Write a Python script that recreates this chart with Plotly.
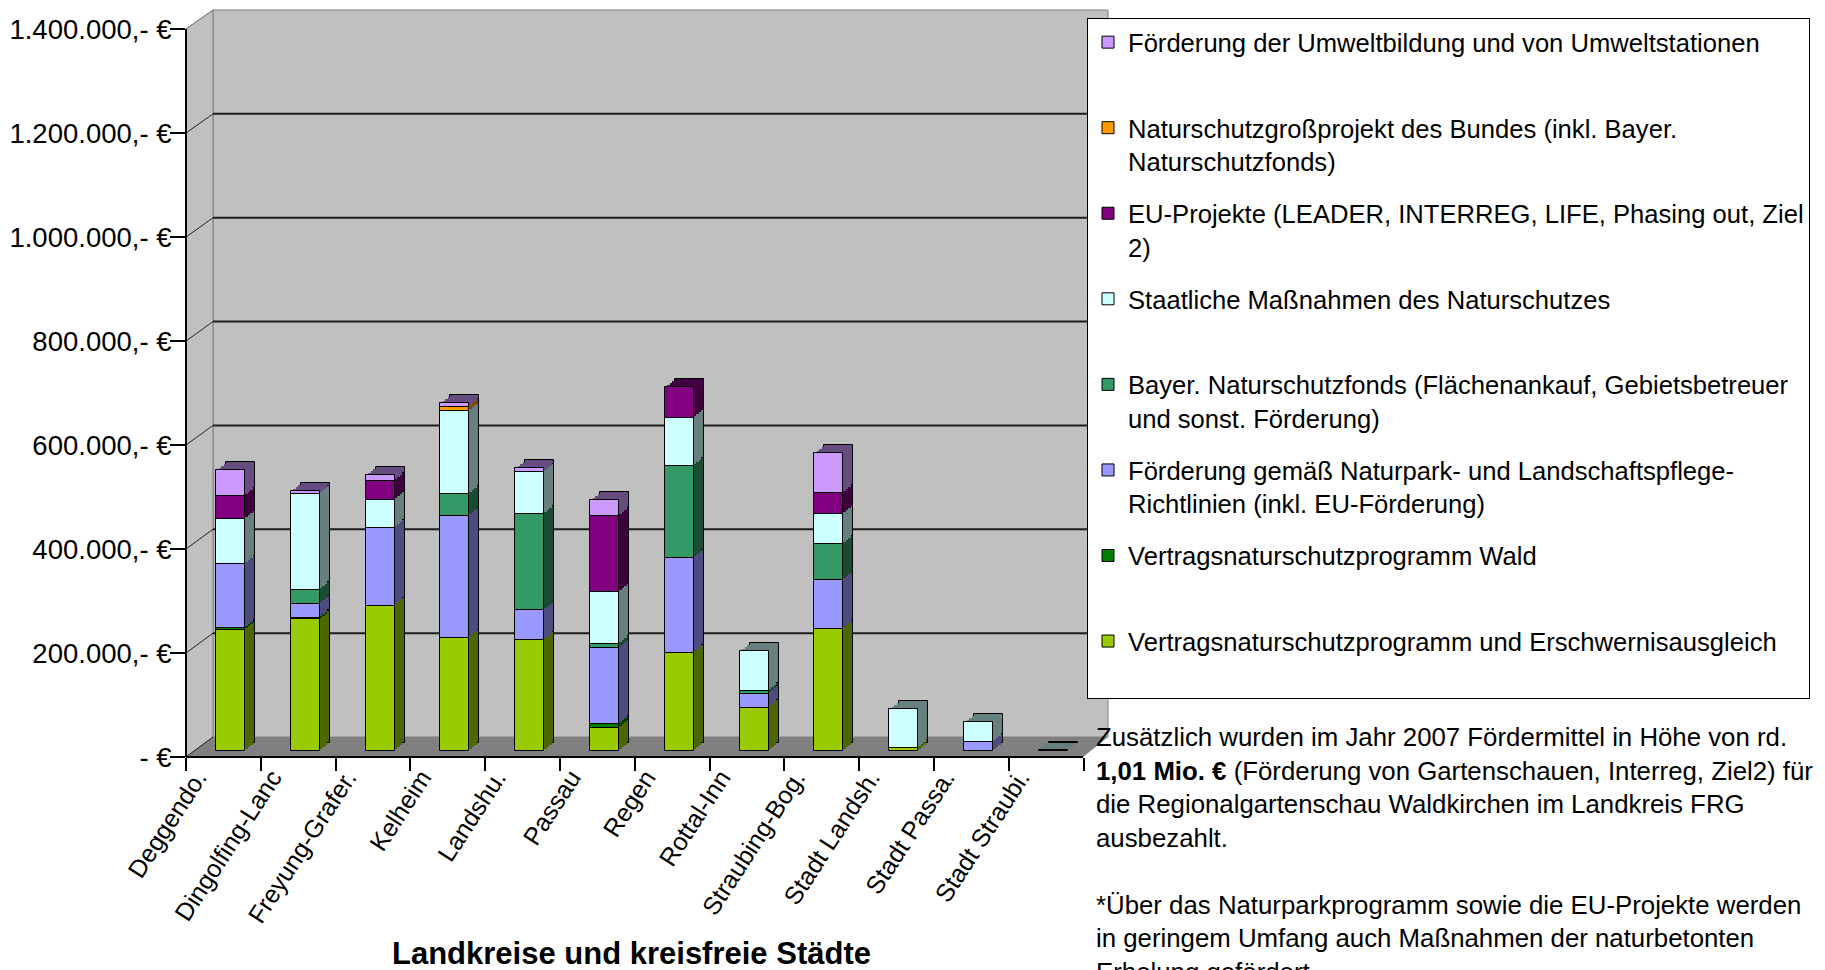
import numpy as np
import plotly.graph_objects as go

# ---------------- data ----------------
districts = ["Deggendorf", "Dingolfing-Landau", "Freyung-Grafenau", "Kelheim", "Landshut",
             "Passau", "Regen", "Rottal-Inn", "Straubing-Bogen", "Stadt Landshut",
             "Stadt Passau", "Stadt Straubing"]
tick_labels = ["Deggendo.", "Dingolfing-Lanc", "Freyung-Grafer.", "Kelheim", "Landshu.",
               "Passau", "Regen", "Rottal-Inn", "Straubing-Bog.", "Stadt Landsh.",
               "Stadt Passa.", "Stadt Straubi."]

y_tick_values = [0, 200000, 400000, 600000, 800000, 1000000, 1200000, 1400000]
y_tick_labels = ["- €", "200.000,- €", "400.000,- €", "600.000,- €", "800.000,- €",
                 "1.000.000,- €", "1.200.000,- €", "1.400.000,- €"]

# series values in EUR (stacking order bottom -> top)
vnp_erschwernis = [233000, 253000, 279000, 218000, 214000, 44000, 188000, 82000, 234000, 6000, 0, 0]
vnp_wald        = [3000, 3000, 0, 0, 0, 8000, 0, 0, 0, 0, 0, 0]
naturpark       = [123000, 26000, 150000, 234000, 58000, 146000, 183000, 27000, 95000, 0, 18000, 0]
naturschutzfonds = [0, 28000, 0, 42000, 184000, 8000, 178000, 6000, 69000, 0, 0, 0]
staatlich       = [88000, 184000, 53000, 160000, 80000, 99000, 92000, 77000, 57000, 74000, 38000, 2000]
eu_projekte     = [43000, 0, 37000, 0, 0, 147000, 59000, 0, 42000, 0, 0, 0]
grossprojekt    = [0, 0, 0, 7000, 0, 0, 0, 0, 0, 0, 0, 0]
umweltbildung   = [50000, 6000, 12000, 8000, 8000, 31000, 0, 0, 77000, 0, 0, 0]

series_names = [
    "Vertragsnaturschutzprogramm und Erschwernisausgleich<br> ",
    "Vertragsnaturschutzprogramm Wald<br> ",
    "Förderung gemäß Naturpark- und Landschaftspflege-<br>Richtlinien (inkl. EU-Förderung)",
    "Bayer. Naturschutzfonds (Flächenankauf, Gebietsbetreuer<br>und sonst. Förderung)",
    "Staatliche Maßnahmen des Naturschutzes<br> ",
    "EU-Projekte (LEADER, INTERREG, LIFE, Phasing out, Ziel<br>2)",
    "Naturschutzgroßprojekt des Bundes (inkl. Bayer.<br>Naturschutzfonds)",
    "Förderung der Umweltbildung und von Umweltstationen<br> ",
]
series_values = [vnp_erschwernis, vnp_wald, naturpark, naturschutzfonds, staatlich,
                 eu_projekte, grossprojekt, umweltbildung]
series_colors = ["#99CC00", "#008000", "#9999FF", "#339966", "#CCFFFF", "#800080", "#FF9900", "#CC99FF"]

x_title = "Landkreise und kreisfreie Städte"
note_text = ("Zusätzlich wurden im Jahr 2007 Fördermittel in Höhe von rd.<br>"
             "<b>1,01 Mio. €</b> (Förderung von Gartenschauen, Interreg, Ziel2) für<br>"
             "die Regionalgartenschau Waldkirchen im Landkreis FRG<br>"
             "ausbezahlt.<br> <br>"
             "*Über das Naturparkprogramm sowie die EU-Projekte werden<br>"
             "in geringem Umfang auch Maßnahmen der naturbetonten<br>"
             "Erholung gefördert.")

# ---------------- geometry (pixels) ----------------
W, H = 1825, 970
PL, PR, PT, PB = 186, 1110, 10, 757
PW, PH = PR - PL, PB - PT
Y_TOP_TICK_PX = 29
R = 1400000 * PH / (PB - Y_TOP_TICK_PX)
EUR_PER_PX = R / PH
BACK_X0, BACK_X1, BACK_TOP, BACK_FLOOR = 213, 1108, 10, 737
FLOOR_FRONT_RIGHT = 1083
CAT_W = 74.8
BAR_W_PX, BAR_LEFT_PX = 29, -7.4
BAR_LIFT = 6
DX, DY, NLAY = 10, 8, 4
FONT = "Liberation Sans, Arial, sans-serif"


def px_x(px):
    return (px - PL) / PW


def px_y(py):
    return (PB - py) / PH


def shade(hexcol, f=0.5):
    h = hexcol.lstrip("#")
    r, g, b = (int(h[i:i + 2], 16) for i in (0, 2, 4))
    return "#%02x%02x%02x" % (int(r * f), int(g * f), int(b * f))


fig = go.Figure()

# empty trace so that the labelled front axis pair (x, y) is drawn
fig.add_trace(go.Scatter(x=[None], y=[None], xaxis="x", yaxis="y", mode="markers",
                         showlegend=False, hoverinfo="skip"))

# stacking
bases = np.zeros(len(districts))
layers = []
for name, vals, col in zip(series_names, series_values, series_colors):
    v = np.array(vals, dtype=float)
    layers.append((name, v, bases.copy(), col))
    bases = bases + v

bar_w = BAR_W_PX / CAT_W
bar_off = BAR_LEFT_PX / CAT_W

# depth layers (back to front) -> side and top faces
for j in range(NLAY, 0, -1):
    lift = j / NLAY * DY * EUR_PER_PX
    for name, v, b, col in layers:
        yv = [float(a) if a > 0 else None for a in v]
        fig.add_trace(go.Bar(
            x=districts, y=yv, base=list(b + lift), yaxis="y2",
            width=bar_w, offset=bar_off + j / NLAY * DX / CAT_W,
            marker=dict(color=shade(col), line=dict(color="black", width=1 if j == NLAY else 0)),
            showlegend=False, hoverinfo="skip"))

# front faces
n = len(layers)
for i, (name, v, b, col) in enumerate(layers):
    yv = [float(a) if a > 0 else None for a in v]
    fig.add_trace(go.Bar(
        x=districts, y=yv, base=list(b), yaxis="y2",
        width=bar_w, offset=bar_off, name=name, legendgroup=f"g{i}",
        legendrank=n - i,
        marker=dict(color=col, line=dict(color="black", width=1))))

# ---------------- shapes ----------------
shapes = []
shapes.append(dict(type="rect", xref="paper", yref="paper", layer="below",
                   x0=px_x(BACK_X0), x1=px_x(BACK_X1), y0=px_y(BACK_FLOOR), y1=px_y(BACK_TOP),
                   fillcolor="#c0c0c0", line=dict(color="#808080", width=1)))
shapes.append(dict(type="path", xref="paper", yref="paper", layer="below",
                   path=f"M {px_x(PL)},{px_y(Y_TOP_TICK_PX)} L {px_x(BACK_X0)},{px_y(BACK_TOP)} "
                        f"L {px_x(BACK_X0)},{px_y(BACK_FLOOR)} L {px_x(PL)},{px_y(PB)} Z",
                   fillcolor="#c0c0c0", line=dict(color="#808080", width=1)))
shapes.append(dict(type="path", xref="paper", yref="paper", layer="below",
                   path=f"M {px_x(PL)},{px_y(PB)} L {px_x(BACK_X0)},{px_y(BACK_FLOOR)} "
                        f"L {px_x(BACK_X1)},{px_y(BACK_FLOOR)} L {px_x(FLOOR_FRONT_RIGHT)},{px_y(PB)} Z",
                   fillcolor="#808080", line=dict(width=0)))
for v in y_tick_values:
    fy = PB - v / EUR_PER_PX
    by = BACK_FLOOR - v / 1400000 * (BACK_FLOOR - BACK_TOP)
    if 0 < v < 1400000:
        shapes.append(dict(type="line", xref="paper", yref="paper", layer="below",
                           x0=px_x(BACK_X0), y0=px_y(by), x1=px_x(BACK_X1), y1=px_y(by),
                           line=dict(color="#1e1e1e", width=2)))
    shapes.append(dict(type="line", xref="paper", yref="paper", layer="below",
                       x0=px_x(PL), y0=px_y(fy), x1=px_x(BACK_X0), y1=px_y(by),
                       line=dict(color="#808080" if v == 1400000 else "#222222", width=1)))
shapes.append(dict(type="line", xref="paper", yref="paper", layer="below",
                   x0=px_x(PL), y0=px_y(Y_TOP_TICK_PX), x1=px_x(PL), y1=px_y(PB),
                   line=dict(color="black", width=2)))
shapes.append(dict(type="line", xref="paper", yref="paper", layer="below",
                   x0=px_x(PL), y0=px_y(PB), x1=px_x(FLOOR_FRONT_RIGHT), y1=px_y(PB),
                   line=dict(color="black", width=2)))

annotations = [
    dict(text=f"<b>{x_title}</b>", xref="paper", yref="paper", x=px_x(631), y=px_y(953),
         xanchor="center", yanchor="middle", showarrow=False,
         font=dict(family=FONT, size=31, color="black")),
    dict(text=note_text, xref="paper", yref="paper", x=px_x(1094), y=px_y(721),
         xanchor="left", yanchor="top", align="left", showarrow=False,
         font=dict(family=FONT, size=25.8, color="black")),
]

fig.update_layout(
    width=W, height=H,
    margin=dict(l=PL, r=W - PR, t=PT, b=H - PB, pad=0, autoexpand=False),
    paper_bgcolor="white", plot_bgcolor="rgba(0,0,0,0)",
    barmode="overlay", bargap=0,
    font=dict(family=FONT, size=25, color="black"),
    shapes=shapes, annotations=annotations,
    xaxis=dict(domain=[0, 1], type="category", range=[-0.5, -0.5 + PW / CAT_W],
               tickmode="array", tickvals=districts, ticktext=tick_labels, tickson="boundaries",
               ticks="outside", ticklen=13, tickwidth=2, tickcolor="black", tickangle=-57,
               ticklabelshift=-26,
               tickfont=dict(family=FONT, size=25, color="black"),
               showgrid=False, zeroline=False, showline=False, automargin=False),
    yaxis=dict(domain=[0, 1], range=[0, R],
               tickmode="array", tickvals=y_tick_values, ticktext=y_tick_labels,
               ticks="outside", ticklen=15, tickwidth=2, tickcolor="black",
               ticklabelstandoff=-7,
               tickfont=dict(family=FONT, size=27.5, color="black"),
               showgrid=False, zeroline=False, showline=False, automargin=False),
    yaxis2=dict(overlaying="y", anchor="x", visible=False,
                range=[-BAR_LIFT * EUR_PER_PX, R - BAR_LIFT * EUR_PER_PX]),
    legend=dict(xref="container", yref="container", x=1087 / W, y=1 - 18 / H,
                xanchor="left", yanchor="top", bgcolor="white", bordercolor="black", borderwidth=1,
                font=dict(family=FONT, size=25.6, color="black"), valign="top",
                traceorder="grouped", tracegroupgap=16, maxheight=900),
    showlegend=True,
)

fig.write_html("out.html",
               config={"displayModeBar": False},
               post_script="document.body.style.margin='0';document.body.style.padding='0';"
                           "document.body.style.overflow='hidden';")
